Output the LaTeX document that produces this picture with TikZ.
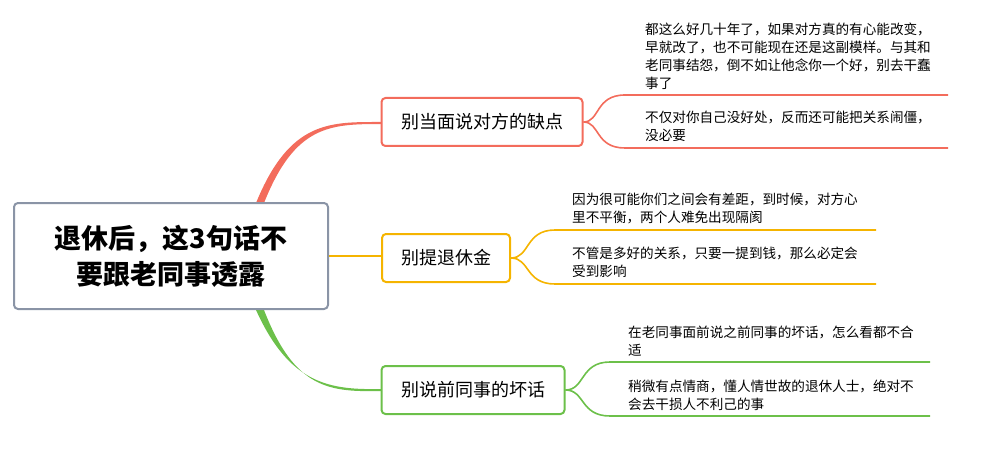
\documentclass[tikz,border=0pt]{standalone}
\usepackage{fontspec}
\setmainfont{Noto Sans CJK SC}
\usetikzlibrary{positioning}
\definecolor{redb}{HTML}{F36C5C}
\definecolor{orab}{HTML}{F5B400}
\definecolor{greb}{HTML}{6CC04A}
\definecolor{rootb}{HTML}{8A94A6}
\tikzset{
  rootbox/.style={rectangle, rounded corners=4pt, draw=rootb, line width=2pt, fill=white, minimum width=314pt, minimum height=106pt, align=center, font=\fontsize{27}{36}\selectfont\bfseries},
  topicbox/.style={rectangle, rounded corners=4pt, line width=2pt, fill=white, minimum height=48pt, inner xsep=8pt, font=\fontsize{18}{22}\selectfont},
  leaftext/.style={anchor=south west, align=left, inner sep=0pt, font=\fontsize{13.6}{18}\selectfont},
  leafline/.style={line width=1.6pt}
}
\begin{document}
\begin{tikzpicture}[x=1pt,y=-1pt]
    \useasboundingbox (0,0) rectangle (987,449);
    % Branches
    \fill[redb] (256,203) .. controls (290,120) and (330,122) .. (382,122) -- (382,124) .. controls (330,124) and (295,125) .. (264,203) -- cycle;
    \draw[orab, line width=2.5pt] (328,256) -- (382,256);
    \fill[greb] (256,310) .. controls (290,385) and (330,390) .. (382,389) -- (382,391) .. controls (330,392) and (295,390) .. (264,310) -- cycle;
    % Nodes
    \node [rootbox] (root) at (171,256) {退休后，这3句话不\\要跟老同事透露};
    \node [topicbox, draw=redb, minimum width=201pt] (t1) at (482,122) {别当面说对方的缺点};
    \node [topicbox, draw=orab, minimum width=128pt] (t2) at (446,258) {别提退休金};
    \node [topicbox, draw=greb, minimum width=183pt] (t3) at (473,390) {别说前同事的坏话};
    % Leaves
    \coordinate (a1) at (948,95);  \coordinate (a2) at (948,148);
    \coordinate (b1) at (876,230); \coordinate (b2) at (876,284);
    \coordinate (c1) at (930,362); \coordinate (c2) at (930,416);
    \draw[redb, leafline] (t1.east) .. controls (600,122) and (595,95) .. (625,95) -- (a1);
    \draw[redb, leafline] (t1.east) .. controls (600,122) and (595,148) .. (625,148) -- (a2);
    \draw[orab, leafline] (t2.east) .. controls (530,258) and (525,230) .. (555,230) -- (b1);
    \draw[orab, leafline] (t2.east) .. controls (530,258) and (525,284) .. (555,284) -- (b2);
    \draw[greb, leafline] (t3.east) .. controls (585,390) and (580,362) .. (610,362) -- (c1);
    \draw[greb, leafline] (t3.east) .. controls (585,390) and (580,416) .. (610,416) -- (c2);
    \node [leaftext] (a1t) at (645,90) {都这么好几十年了，如果对方真的有心能改变，\\早就改了，也不可能现在还是这副模样。与其和\\老同事结怨，倒不如让他念你一个好，别去干蠢\\事了};
    \node [leaftext] (a2t) at (645,142) {不仅对你自己没好处，反而还可能把关系闹僵，\\没必要};
    \node [leaftext] (b1t) at (572,224) {因为很可能你们之间会有差距，到时候，对方心\\里不平衡，两个人难免出现隔阂};
    \node [leaftext] (b2t) at (572,278) {不管是多好的关系，只要一提到钱，那么必定会\\受到影响};
    \node [leaftext] (c1t) at (628,357) {在老同事面前说之前同事的坏话，怎么看都不合\\适};
    \node [leaftext] (c2t) at (628,411) {稍微有点情商，懂人情世故的退休人士，绝对不\\会去干损人不利己的事};
\end{tikzpicture}
\end{document}
